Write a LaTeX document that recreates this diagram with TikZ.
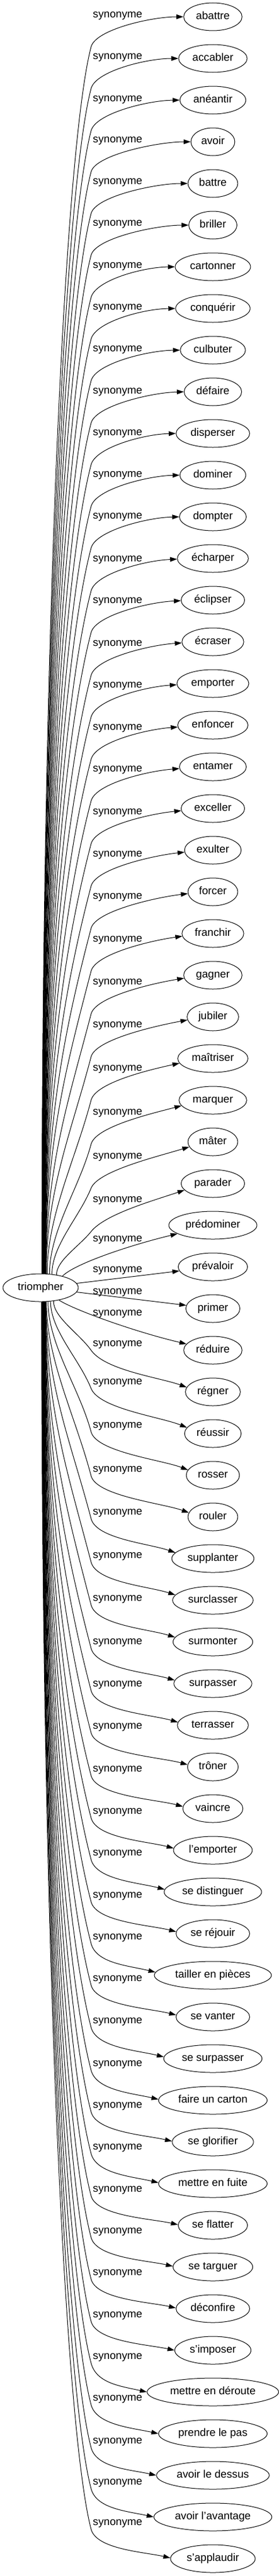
\documentclass[tikz,border=0pt]{standalone}
\usepackage{fontspec}
\setmainfont{Liberation Sans}
\usetikzlibrary{arrows.meta,shapes.geometric,calc}

\def\synlist{1/abattre/-3/72, 2/accabler/-3/72.3, 3/anéantir/-2/72.6, 4/avoir/-3/72.9,
	5/battre/-3/73.2, 6/briller/-3/73.5, 7/cartonner/-2/73.8, 8/conquérir/-2/74.1,
	9/culbuter/-2/74.4, 10/défaire/-1/74.7, 11/disperser/-1/75, 12/dominer/-1/75.3,
	13/dompter/-1/75.6, 14/écharper/1/75.9, 15/éclipser/1/76.2, 16/écraser/3/76.5,
	17/emporter/3/76.8, 18/enfoncer/4/77.1, 19/entamer/4/77.4, 20/exceller/6/77.7,
	21/exulter/7/78, 22/forcer/8/78.3, 23/franchir/10/78.6, 24/gagner/12/78.9,
	25/jubiler/14/79.2, 26/maîtriser/17/81, 27/marquer/21/85, 28/mâter/25/89,
	29/parader/28/97, 30/prédominer/24/107, 31/prévaloir/5/0, 32/primer/-29/0,
	33/réduire/-64/102, 34/régner/-83/92, 35/réussir/-89/87, 36/rosser/-86/83,
	37/rouler/-82/80, 38/supplanter/-80/79.2, 39/surclasser/-77/78.9, 40/surmonter/-75/78.6,
	41/surpasser/-72/78.3, 42/terrasser/-71/78, 43/trôner/-70/77.7, 44/vaincre/-68/77.4,
	45/l'emporter/-67/77.1, 46/se distinguer/-67/76.8, 47/se réjouir/-66/76.5,
	48/tailler en pièces/-66/76.2, 49/se vanter/-66/75.9, 50/se surpasser/-65/75.6,
	51/faire un carton/-63/75.3, 52/se glorifier/-63/75, 53/mettre en fuite/-63/74.7,
	54/se flatter/-62/74.4, 55/se targuer/-62/74.1, 56/déconfire/-62/73.8,
	57/s'imposer/-61/73.5, 58/mettre en déroute/-61/73.2, 59/prendre le pas/-61/72.9,
	60/avoir le dessus/-59/72.6, 61/avoir l'avantage/-60/72.3, 62/s'applaudir/-62/72}

\begin{document}
\begin{tikzpicture}[
	x=1pt, y=-1pt,
	font=\fontsize{18.67}{22}\selectfont,
	word/.style={ellipse, draw, line width=1pt, inner xsep=6.5pt, inner ysep=0pt,
		minimum height=48pt, minimum width=72pt, text height=13.5pt, text depth=4pt},
	syn/.style={anchor=west, inner sep=0pt, text height=13.5pt, text depth=4pt},
	link/.style={line width=1pt, -{Triangle[length=12pt,width=8pt]}}]
\fill[white] (0,0) rectangle (478,4451);
\node[word] (tri) at (70,2225) {triompher};
\foreach \i/\word/\off/\xs in \synlist {
	\pgfmathsetmacro\ny{29+72*(\i-1)}
	\pgfmathsetmacro\ly{\ny+\off}
	\node[word] (w\i) at (367,\ny) {\word};
	\node[syn] (l\i) at (160,\ly) {synonyme};
	\ifnum\i<30
		\pgfmathsetmacro\dx{\xs-70}
		\pgfmathsetmacro\dy{24*sqrt(1-(\dx/66)^2)}
		\pgfmathtruncatemacro\sa{atan2(\dy,\dx)}
		\pgfmathsetmacro\ys{2225-\dy}
		\pgfmathsetmacro\kn{\ly+55}
		\pgfmathsetmacro\dist{\ys-\kn}
		\pgfmathsetmacro\ctl{min(170,\dist/3)}
		\pgfmathsetmacro\lead{max(0.566*\dist-70,\dist/3)}
		\pgfmathsetmacro\slope{max(0.26,60/\dist)}
		\pgfmathsetmacro\ex{max(0,\kn-\ny-52)}
		\pgfmathtruncatemacro\ta{180+0.45*\ex}
		\draw[link] (tri.\sa) .. controls (\xs,\ys-\lead) and (157-\slope*\ctl,\kn+\ctl) .. (157,\kn)
			.. controls (157+\slope*30,\kn-30) and ($(w\i.\ta)+(-55,0.6*\ex)$) .. (w\i.\ta);
	\fi
	\ifnum\i>33
		\pgfmathsetmacro\dx{\xs-70}
		\pgfmathsetmacro\dy{24*sqrt(1-(\dx/66)^2)}
		\pgfmathtruncatemacro\sa{360-atan2(\dy,\dx)}
		\pgfmathsetmacro\ys{2225+\dy}
		\pgfmathsetmacro\kn{\ly+11}
		\pgfmathsetmacro\dist{\kn-\ys}
		\pgfmathsetmacro\ctl{min(170,\dist/3)}
		\pgfmathsetmacro\lead{max(0.566*\dist-70,\dist/3)}
		\pgfmathsetmacro\slope{max(0.26,60/\dist)}
		\pgfmathsetmacro\ex{max(0,\ny-\kn-50)}
		\pgfmathtruncatemacro\ta{180-0.45*\ex}
		\draw[link] (tri.\sa) .. controls (\xs,\ys+\lead) and (157-\slope*\ctl,\kn-\ctl) .. (157,\kn)
			.. controls (157+\slope*35,\kn+35) and ($(w\i.\ta)+(-45,-10-0.3*\ex)$) .. (w\i.\ta);
	\fi
}
\draw[link] (tri.28) .. controls (128,2184) and (222,2152) .. (w30);
\draw[link] (tri) -- (w31);
\draw[link] (tri) -- (w32);
\draw[link] (tri.326) .. controls (125,2262) and (228,2300) .. (w33);
\end{tikzpicture}
\end{document}
